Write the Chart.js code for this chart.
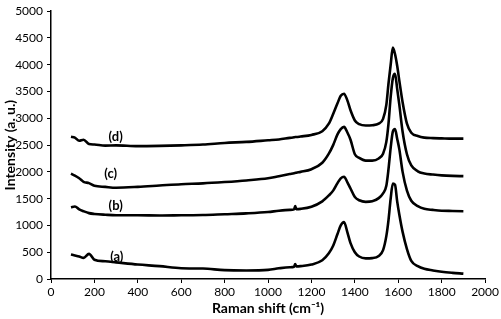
<!DOCTYPE html>
<html lang="en">
  <head>
    <meta charset="UTF-8" />
    <title>Raman spectra</title>
    <script src="https://cdn.jsdelivr.net/npm/chart.js@4.4.0/dist/chart.umd.min.js"></script>
    <style>
      body { margin: 0; background: #fff; }
      #wrap { width: 501px; height: 319px; }
    </style>
  </head>
  <body>
    <div id="wrap"><canvas id="chart" width="501" height="319"></canvas></div>

    <script>
      // Raman shift (cm-1) sample positions
      const shifts = [92, 110, 130, 150, 175, 200, 250, 300, 400, 500, 600, 700, 800, 900, 1000, 1050, 1100, 1120, 1125, 1130, 1150, 1200, 1250, 1280, 1300, 1320, 1335, 1350, 1365, 1380, 1400, 1420, 1450, 1480, 1510, 1530, 1545, 1555, 1565, 1575, 1585, 1595, 1605, 1620, 1640, 1660, 1690, 1720, 1760, 1800, 1850, 1900];

      // intensities, one list per spectrum
      const specA = [457, 440, 420, 395, 470, 360, 330, 310, 270, 240, 200, 195, 165, 160, 170, 200, 220, 230, 280, 235, 240, 270, 350, 480, 620, 840, 1000, 1065, 880, 670, 500, 420, 385, 390, 430, 540, 800, 1100, 1500, 1780, 1760, 1450, 1200, 880, 560, 340, 240, 190, 160, 135, 115, 100];
      const specB = [1340, 1355, 1300, 1265, 1230, 1215, 1200, 1190, 1190, 1185, 1190, 1195, 1210, 1225, 1250, 1275, 1290, 1300, 1360, 1305, 1310, 1350, 1450, 1560, 1650, 1790, 1880, 1910, 1810, 1690, 1530, 1470, 1440, 1450, 1510, 1600, 1740, 2050, 2450, 2750, 2800, 2620, 2420, 2000, 1650, 1460, 1360, 1310, 1290, 1275, 1270, 1265];
      const specC = [1966, 1930, 1880, 1815, 1790, 1740, 1720, 1705, 1720, 1745, 1770, 1785, 1810, 1840, 1880, 1920, 1960, 1975, 1980, 1985, 2000, 2050, 2170, 2340, 2500, 2700, 2800, 2840, 2740, 2600, 2330, 2260, 2210, 2210, 2250, 2340, 2560, 2900, 3400, 3750, 3830, 3550, 3250, 2750, 2330, 2120, 2010, 1970, 1950, 1935, 1925, 1920];
      const specD = [2655, 2640, 2580, 2600, 2520, 2510, 2490, 2495, 2480, 2485, 2495, 2510, 2540, 2560, 2590, 2605, 2635, 2645, 2650, 2650, 2660, 2690, 2760, 2900, 3080, 3280, 3420, 3460, 3340, 3150, 2960, 2890, 2865, 2870, 2900, 2990, 3250, 3650, 4000, 4320, 4200, 3980, 3700, 3300, 2900, 2730, 2670, 2640, 2630, 2625, 2620, 2620];

      // curve labels and where they sit (data coords)
      const tagText = ['(a)', '(b)', '(c)', '(d)'];
      const tagX = [303, 298, 275, 298];
      const tagY = [420, 1365, 1955, 2660];

      const fontFam = 'Lato, "Open Sans", "Liberation Sans", sans-serif';

      function toPts(ys) {
        return ys.map((y, i) => ({ x: shifts[i], y: y }));
      }

      const tagPlugin = {
        id: 'tags',
        afterDatasetsDraw(chart) {
          const ctx = chart.ctx;
          const xs = chart.scales.x, ys = chart.scales.y;
          ctx.save();
          ctx.fillStyle = '#000';
          ctx.font = 'bold 13px ' + fontFam;
          ctx.textAlign = 'center';
          ctx.textBaseline = 'middle';
          for (let i = 0; i < tagText.length; i++) {
            ctx.fillText(tagText[i], xs.getPixelForValue(tagX[i]), ys.getPixelForValue(tagY[i]));
          }
          ctx.restore();
        }
      };

      const series = [specA, specB, specC, specD];
      const ctx = document.getElementById('chart').getContext('2d');
      new Chart(ctx, {
        type: 'line',
        data: {
          datasets: series.map((s, i) => ({
            label: tagText[i],
            data: toPts(s),
            borderColor: '#000',
            borderWidth: 2.6,
            pointRadius: 0,
            fill: false,
            cubicInterpolationMode: 'monotone'
          }))
        },
        options: {
          responsive: false,
          animation: false,
          layout: { padding: { top: 6, right: 14, left: 0, bottom: 0 } },
          plugins: { legend: { display: false }, tooltip: { enabled: false } },
          scales: {
            x: {
              type: 'linear',
              min: 0, max: 2000,
              afterFit: (s) => { s.height = 40; },
              ticks: { stepSize: 200, color: '#000', font: { family: fontFam, size: 12 }, padding: 2, maxRotation: 0, callback: (v) => String(v) },
              grid: { drawOnChartArea: false, drawTicks: true, tickLength: 4, color: '#000' },
              border: { color: '#000', width: 1.5 },
              title: { display: true, text: 'Raman shift (cm\u207B\u00B9)', color: '#000', font: { family: fontFam, size: 14, weight: 'bold' }, padding: { top: 0, bottom: 2 } }
            },
            y: {
              min: 0, max: 5000,
              afterFit: (s) => { s.width = 51; },
              ticks: { stepSize: 500, color: '#000', font: { family: fontFam, size: 12 }, padding: 4, callback: (v) => String(v) },
              grid: { drawOnChartArea: false, drawTicks: true, tickLength: 4, color: '#000' },
              border: { color: '#000', width: 1.5 },
              title: { display: true, text: 'Intensity (a. u.)', color: '#000', font: { family: fontFam, size: 14, weight: 'bold' }, padding: { top: 2, bottom: 0 } }
            }
          }
        },
        plugins: [tagPlugin]
      });
    </script>
  </body>
</html>
